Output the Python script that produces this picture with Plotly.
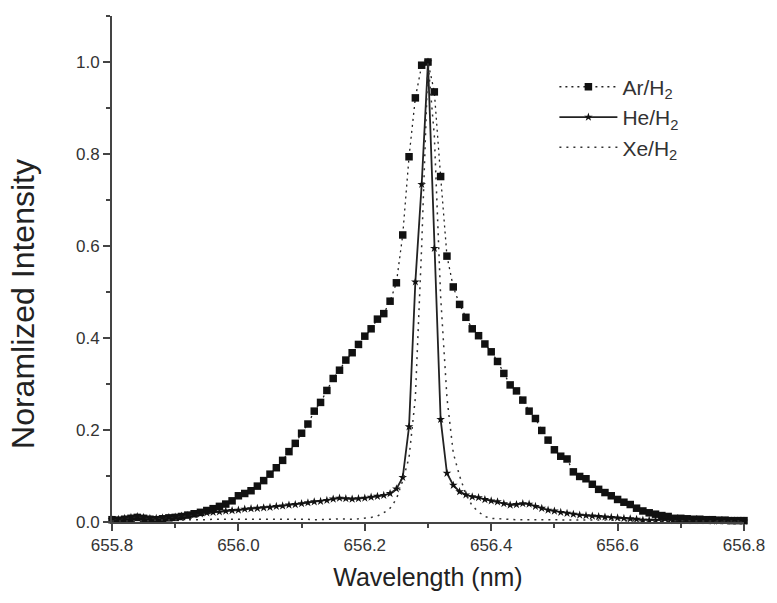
import numpy as np
import plotly.graph_objects as go

# Wavelength grid (nm), 0.01 nm step
wavelength = np.round(np.linspace(655.8, 656.8, 101), 2)

ar_h2 = [
    0.005, 0.004, 0.006, 0.008, 0.010, 0.008, 0.006, 0.005, 0.007, 0.009,
    0.010, 0.012, 0.015, 0.018, 0.021, 0.025, 0.029, 0.034, 0.039, 0.046,
    0.057, 0.062, 0.068, 0.078, 0.090, 0.104, 0.118, 0.134, 0.153, 0.171,
    0.193, 0.213, 0.241, 0.260, 0.286, 0.312, 0.330, 0.352, 0.368, 0.386,
    0.404, 0.420, 0.441, 0.453, 0.480, 0.520, 0.624, 0.794, 0.922, 0.993,
    1.000, 0.935, 0.751, 0.578, 0.511, 0.473, 0.445, 0.420, 0.405, 0.387,
    0.370, 0.349, 0.323, 0.298, 0.285, 0.265, 0.241, 0.225, 0.199, 0.178,
    0.157, 0.143, 0.137, 0.109, 0.099, 0.094, 0.082, 0.071, 0.064, 0.057,
    0.049, 0.043, 0.038, 0.030, 0.024, 0.020, 0.017, 0.014, 0.012, 0.008,
    0.008, 0.007, 0.006, 0.006, 0.005, 0.005, 0.004, 0.004, 0.003, 0.003, 0.003,
]

he_h2 = [
    0.005, 0.006, 0.008, 0.010, 0.012, 0.010, 0.008, 0.008, 0.009, 0.010,
    0.011, 0.013, 0.014, 0.016, 0.018, 0.020, 0.021, 0.022, 0.024, 0.025,
    0.026, 0.028, 0.029, 0.030, 0.031, 0.032, 0.034, 0.035, 0.037, 0.038,
    0.040, 0.042, 0.044, 0.045, 0.047, 0.050, 0.052, 0.051, 0.050, 0.051,
    0.052, 0.054, 0.056, 0.058, 0.062, 0.072, 0.097, 0.207, 0.522, 0.734,
    1.000, 0.595, 0.223, 0.106, 0.080, 0.066, 0.059, 0.055, 0.053, 0.049,
    0.046, 0.044, 0.040, 0.037, 0.038, 0.040, 0.039, 0.034, 0.030, 0.026,
    0.024, 0.021, 0.019, 0.017, 0.015, 0.014, 0.013, 0.012, 0.011, 0.010,
    0.009, 0.008, 0.007, 0.006, 0.004, 0.004, 0.004, 0.004, 0.004, 0.003,
    0.003, 0.003, 0.003, 0.003, 0.003, 0.002, 0.002, 0.002, 0.002, 0.002, 0.002,
]

xe_h2 = [
    0.002, 0.002, 0.003, 0.003, 0.003, 0.003, 0.003, 0.004, 0.004, 0.004,
    0.004, 0.005, 0.005, 0.005, 0.005, 0.005, 0.006, 0.006, 0.006, 0.006,
    0.006, 0.006, 0.007, 0.007, 0.006, 0.006, 0.006, 0.007, 0.007, 0.006,
    0.006, 0.006, 0.005, 0.005, 0.006, 0.006, 0.007, 0.006, 0.006, 0.007,
    0.008, 0.010, 0.013, 0.020, 0.030, 0.050, 0.090, 0.140, 0.270, 0.600,
    1.000, 0.840, 0.490, 0.270, 0.150, 0.100, 0.060, 0.035, 0.022, 0.012,
    0.008, 0.007, 0.006, 0.006, 0.005, 0.005, 0.005, 0.005, 0.005, 0.005,
    0.005, 0.004, 0.004, 0.004, 0.004, 0.004, 0.004, 0.004, 0.004, 0.004,
    0.004, 0.003, 0.003, 0.003, 0.003, 0.003, 0.003, 0.003, 0.003, 0.003,
    0.003, 0.003, 0.003, 0.003, 0.003, 0.002, 0.002, 0.002, 0.002, 0.002, 0.002,
]

x_ticks = [655.8, 656.0, 656.2, 656.4, 656.6, 656.8]
x_tick_labels = ["655.8", "656.0", "656.2", "656.4", "656.6", "656.8"]
y_ticks = [0.0, 0.2, 0.4, 0.6, 0.8, 1.0]
y_tick_labels = ["0.0", "0.2", "0.4", "0.6", "0.8", "1.0"]
x_title = "Wavelength (nm)"
y_title = "Noramlized Intensity"

FONT = "Liberation Sans, Arial, sans-serif"
AXC = "#444444"

fig = go.Figure()
fig.add_trace(go.Scatter(
    x=wavelength, y=ar_h2, name="Ar/H<sub>2</sub>", mode="lines+markers",
    line=dict(color="#222222", width=1.3, dash="2px,4px"),
    marker=dict(symbol="square", size=7.5, color="#111111"),
    cliponaxis=False,
))
fig.add_trace(go.Scatter(
    x=wavelength, y=he_h2, name="He/H<sub>2</sub>", mode="lines+markers",
    line=dict(color="#222222", width=1.8),
    marker=dict(symbol="star", size=6.5, color="#111111"),
    cliponaxis=False,
))
fig.add_trace(go.Scatter(
    x=wavelength, y=xe_h2, name="Xe/H<sub>2</sub>", mode="lines",
    line=dict(color="#333333", width=1.5, dash="2px,5px"),
    cliponaxis=False,
))

fig.add_annotation(
    text=y_title, xref="paper", yref="paper", x=-0.14, y=0.43,
    xanchor="center", yanchor="middle", textangle=-90, showarrow=False,
    font=dict(size=32, color="#222222", family=FONT),
)

fig.update_layout(
    width=777, height=603,
    margin=dict(l=112, r=29, t=16, b=81),
    paper_bgcolor="white", plot_bgcolor="white",
    font=dict(family=FONT, color="#333333"),
    showlegend=True,
    legend=dict(
        x=0.70, y=0.90, xanchor="left", yanchor="top",
        font=dict(size=21, color="#333333", family=FONT),
        bgcolor="rgba(0,0,0,0)", itemwidth=58, tracegroupgap=0,
    ),
    xaxis=dict(
        range=[655.8, 656.8], tickvals=x_ticks, ticktext=x_tick_labels,
        showgrid=False, zeroline=False,
        showline=True, linecolor=AXC, linewidth=2,
        ticks="outside", ticklen=7, tickwidth=2, tickcolor=AXC,
        tickfont=dict(size=17, color="#333333", family=FONT),
        minor=dict(dtick=0.1, tick0=655.8, ticks="outside", ticklen=4, tickwidth=1.5, tickcolor=AXC),
        title=dict(text=x_title, font=dict(size=25, color="#222222", family=FONT), standoff=14),
    ),
    yaxis=dict(
        range=[0, 1.1], tickvals=y_ticks, ticktext=y_tick_labels,
        showgrid=False, zeroline=False,
        showline=True, linecolor=AXC, linewidth=2,
        ticks="outside", ticklen=7, tickwidth=2, tickcolor=AXC,
        tickfont=dict(size=17, color="#333333", family=FONT),
        minor=dict(dtick=0.1, tick0=0, ticks="outside", ticklen=4, tickwidth=1.5, tickcolor=AXC),
    ),
)

fig.write_html("out.html")
